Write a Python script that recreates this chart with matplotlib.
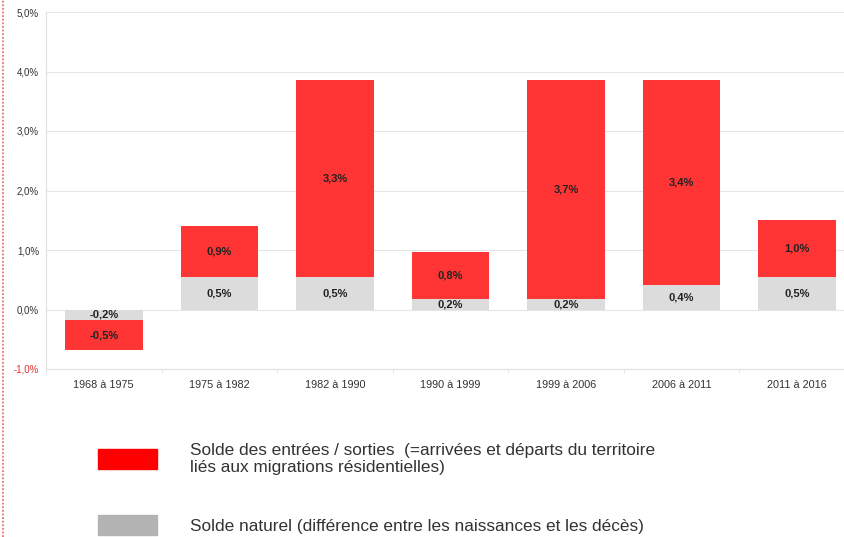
import numpy as np
import matplotlib
matplotlib.use("Agg")
import matplotlib.pyplot as plt
from matplotlib.lines import Line2D
from matplotlib.patches import Rectangle

plt.rcParams['font.family'] = ['Liberation Sans', 'DejaVu Sans']

# periods and the two components of population change (% per year)
periodes = ["1968 à 1975", "1975 à 1982", "1982 à 1990", "1990 à 1999",
            "1999 à 2006", "2006 à 2011", "2011 à 2016"]
solde_naturel = [-0.18, 0.54, 0.54, 0.18, 0.18, 0.42, 0.54]
solde_migratoire = [-0.5, 0.86, 3.32, 0.79, 3.68, 3.44, 0.96]

yticks = [-1, 0, 1, 2, 3, 4, 5]
legende = ["Solde des entrées / sorties  (=arrivées et départs du territoire\nliés aux migrations résidentielles)",
           "Solde naturel (différence entre les naissances et les décès)"]

rouge = "#ff3535"
gris = "#dcdcdc"

W, H = 845, 537
fig = plt.figure(figsize=(W / 100, H / 100), dpi=100)
ax = fig.add_axes([46 / W, (H - 369) / H, (855 - 46) / W, 357 / H])

x = np.arange(len(periodes))
nat = np.array(solde_naturel)
mig = np.array(solde_migratoire)
base_mig = np.where(mig >= 0, np.maximum(nat, 0), np.minimum(nat, 0))

ax.bar(x, nat, width=0.67, color=gris, zorder=2)
ax.bar(x, mig, width=0.67, bottom=base_mig, color=rouge, zorder=2)

def fmt(v):
    return ("%.1f%%" % v).replace(".", ",")

for i in range(len(x)):
    ax.text(x[i], nat[i] / 2, fmt(nat[i]), ha="center", va="center",
            fontsize=8, fontweight="bold", color="#222222", zorder=3)
    ax.text(x[i], base_mig[i] + mig[i] / 2, fmt(mig[i]), ha="center", va="center",
            fontsize=8, fontweight="bold", color="#222222", zorder=3)

ax.set_xlim(-0.5, len(x) - 0.5)
ax.set_ylim(-1, 5)
ax.set_yticks(yticks)
ax.set_yticklabels([fmt(v) for v in yticks], fontsize=7, color="#333333")
ax.get_yticklabels()[0].set_color("#e03030")
ax.tick_params(axis="y", length=0, pad=5)
ax.grid(axis="y", color="#e6e6e6", linewidth=0.8, zorder=0)

ax.set_xticks(x)
ax.set_xticklabels(periodes, fontsize=7.8, color="#333333")
ax.set_xticks(np.arange(len(x) + 1) - 0.5, minor=True)
ax.tick_params(axis="x", which="major", length=0, pad=8)
ax.tick_params(axis="x", which="minor", length=3, color="#e0e0e0", direction="out")

for s in ["top", "right"]:
    ax.spines[s].set_visible(False)
for s in ["left", "bottom"]:
    ax.spines[s].set_color("#e0e0e0")
    ax.spines[s].set_linewidth(0.8)

# legend drawn by hand, as in the original
fig.patches.append(Rectangle((98 / W, (H - 469) / H), 59 / W, 20 / H,
                             transform=fig.transFigure, color="#ff0000"))
fig.patches.append(Rectangle((98 / W, (H - 535) / H), 59 / W, 20 / H,
                             transform=fig.transFigure, color="#b3b3b3"))
fig.text(190 / W, (H - 459) / H, legende[0], fontsize=12.4, color="#333333",
         va="center", ha="left", linespacing=1.12)
fig.text(190 / W, (H - 526) / H, legende[1], fontsize=12.4, color="#333333",
         va="center", ha="left")

# dotted red margin on the left
fig.add_artist(Line2D([3 / W, 3 / W], [0, 1], transform=fig.transFigure,
                      color="#ee7070", linestyle=(0, (1, 1)), linewidth=1.3))

fig.savefig("out.png", dpi=100)
